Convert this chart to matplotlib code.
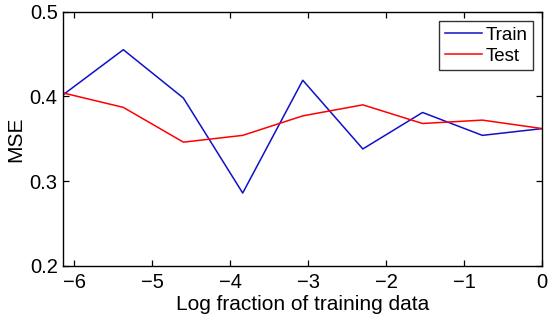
import numpy as np
import matplotlib
matplotlib.use("Agg")
import matplotlib.pyplot as plt

plt.rcParams['font.family'] = ['Liberation Sans', 'DejaVu Sans']

x_vals = [-6.14, -5.37, -4.60, -3.84, -3.07, -2.30, -1.535, -0.768, 0.0]
train = [0.402, 0.455, 0.398, 0.286, 0.419, 0.338, 0.381, 0.354, 0.362]
test = [0.404, 0.387, 0.346, 0.354, 0.377, 0.390, 0.368, 0.372, 0.362]
xticks = [-6, -5, -4, -3, -2, -1, 0]
xticklabels = ['\u22126', '\u22125', '\u22124', '\u22123', '\u22122', '\u22121', '0']
yticks = [0.2, 0.3, 0.4, 0.5]
yticklabels = ['0.2', '0.3', '0.4', '0.5']

fig = plt.figure(figsize=(5.5, 3.3), dpi=100)
ax = fig.add_axes([0.115, 0.194, 0.871, 0.771])
ax.plot(x_vals, train, color='#1010c8', lw=1.1, label='Train')
ax.plot(x_vals, test, color='#ff0000', lw=1.1, label='Test')
ax.set_xlim(-6.14, 0)
ax.set_ylim(0.2, 0.5)
ax.set_xticks(xticks)
ax.set_xticklabels(xticklabels)
ax.set_yticks(yticks)
ax.set_yticklabels(yticklabels)
ax.tick_params(direction='in', length=4, width=0.9, top=True, right=True, labelsize=14.5)
ax.tick_params(axis='x', pad=5)
ax.tick_params(axis='y', pad=4)
for s in ax.spines.values():
    s.set_linewidth(1.0)
ax.set_xlabel('Log fraction of training data', fontsize=15, labelpad=2)
ax.set_ylabel('MSE', fontsize=15, labelpad=3)
leg = ax.legend(loc='upper right', fontsize=13.5, frameon=True, fancybox=False,
                edgecolor='black', handlelength=1.95, handletextpad=0.2,
                labelspacing=0.2, borderpad=0.3, borderaxespad=0.5)
leg.get_frame().set_linewidth(1.0)
fig.savefig('out.png', dpi=100)
